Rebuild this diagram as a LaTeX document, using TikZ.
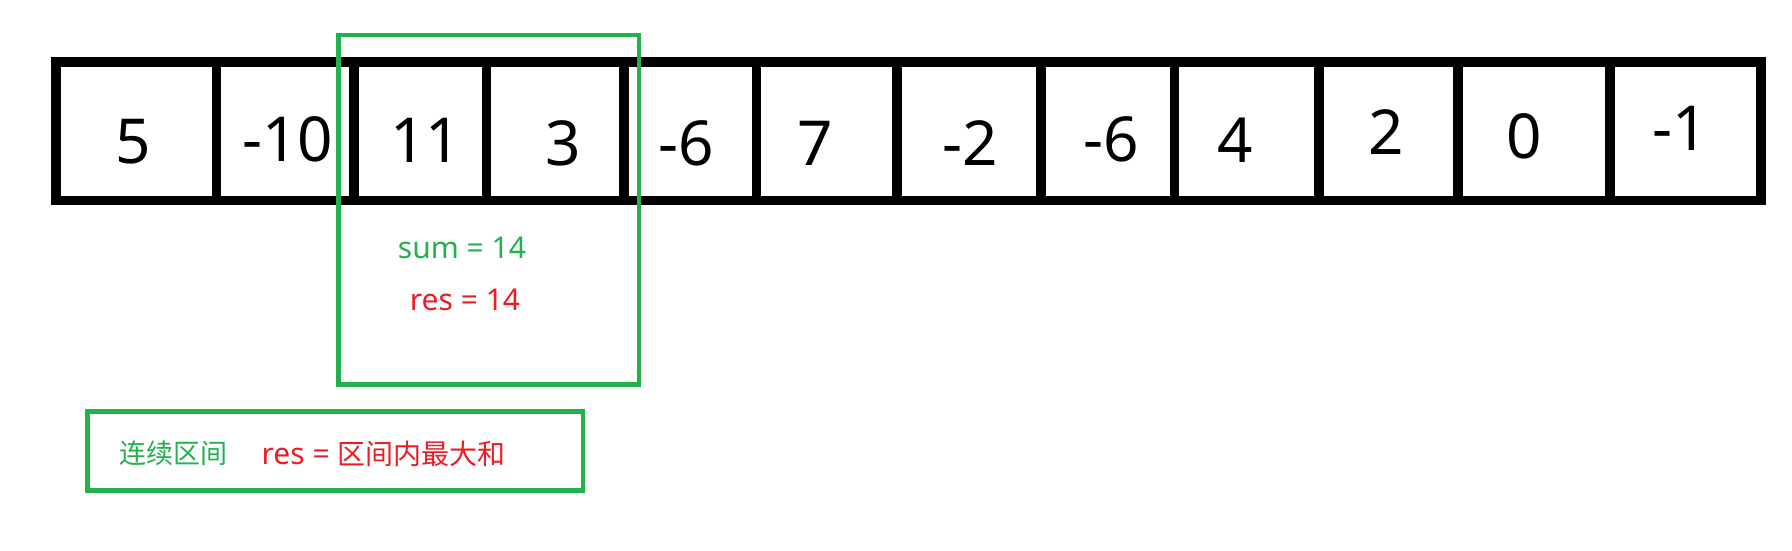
\documentclass[tikz,border=0pt]{standalone}
\usepackage{fontspec}
\setmainfont{Noto Sans}
\newfontfamily\cjk{Noto Sans CJK SC}
\definecolor{pgreen}{RGB}{34,177,76}
\definecolor{pred}{RGB}{237,28,36}
\tikzset{
  cellbox/.style={draw=black, line width=9.3pt, rectangle, inner sep=0pt, outer sep=0pt, minimum height=138.5pt},
  numtext/.style={anchor=base, inner sep=0pt, font=\fontsize{62}{70}\selectfont},
  greenbox/.style={draw=pgreen, line width=4.8pt, rectangle, inner sep=0pt, outer sep=0pt},
  smalltext/.style={anchor=base, inner sep=0pt, font=\fontsize{30}{34}\selectfont},
}
\begin{document}
\begin{tikzpicture}[x=1pt,y=-1pt]
\useasboundingbox (0,0) rectangle (1792,550);
\fill[white] (0,0) rectangle (1792,550);
% array cells
\foreach \a/\b [count=\i] in {56/216.5, 216.5/354, 354/486.6, 486.6/624, 624/756.5, 756.5/897, 897/1041, 1041/1174.6, 1174.6/1319, 1319/1458, 1458/1610, 1610/1761}
  \node[cellbox, minimum width={(\b-\a)*1pt}] (c\i) at ({(\a+\b)/2},131.25) {};
% numbers
\node[numtext] (n1) at (133.5,163) {5};
\node[numtext] (n2) at (288,161.7) {-10};
\node[numtext] (n3) at (425.7,162.3) {11};
\node[numtext] (n4) at (563.6,165) {3};
\node[numtext] (n5) at (686,165) {-6};
\node[numtext] (n6) at (815.7,165.7) {7};
\node[numtext] (n7) at (970,165.7) {-2};
\node[numtext] (n8) at (1111,161) {-6};
\node[numtext] (n9) at (1235.5,162.3) {4};
\node[numtext] (n10) at (1386.6,154) {2};
\node[numtext] (n11) at (1524,158) {0};
\node[numtext] (n12) at (1680,150) {-1};
% window
\node[greenbox, minimum width=300.4pt, minimum height=349.7pt] (win) at (488.8,209.85) {};
\node[smalltext, text=pgreen] (sum) at (462,258.3) {sum = 14};
\node[smalltext, text=pred] (res) at (465,310) {res = 14};
% legend
\node[greenbox, minimum width=495.5pt, minimum height=79.1pt] (legend) at (335.25,451.25) {};
\node[anchor=base west, inner sep=0pt, text=pgreen, font=\cjk\fontsize{27}{30}\selectfont] (lg1) at (119,463.5) {连续区间};
\node[anchor=base west, inner sep=0pt, text=pred, font=\fontsize{30}{34}\selectfont] (lg2) at (261.5,464.3) {res = {\cjk\fontsize{28}{30}\selectfont 区间内最大和}};
\end{tikzpicture}
\end{document}
